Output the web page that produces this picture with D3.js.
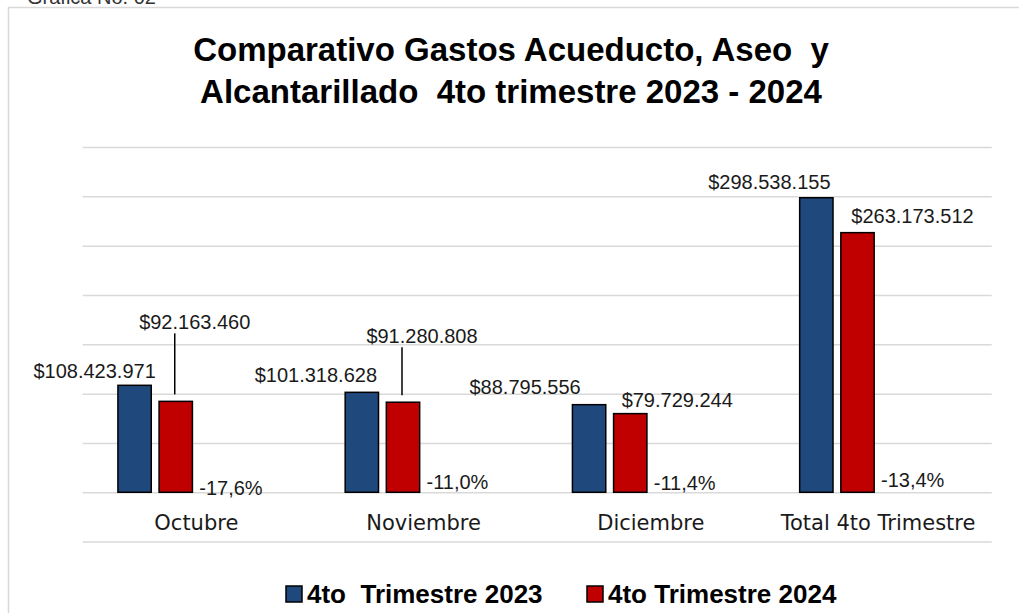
<!DOCTYPE html>
<html>
<head>
<meta charset="utf-8">
<script src="https://cdn.jsdelivr.net/npm/d3@7"></script>
<style>
  body { margin: 0; background: #fff; }
  svg { display: block; }
  text { white-space: pre; }
</style>
</head>
<body>
<div id="chart"></div>
<script>
// Data
const categories = ["Octubre", "Noviembre", "Diciembre", "Total 4to Trimestre"];
const gastos2023 = [108423971, 101318628, 88795556, 298538155];
const gastos2024 = [92163460, 91280808, 79729244, 263173512];
const variacion = ["-17,6%", "-11,0%", "-11,4%", "-13,4%"];
const seriesNames = ["4to  Trimestre 2023", "4to Trimestre 2024"];
const yTicks = [-50e6, 0, 50e6, 100e6, 150e6, 200e6, 250e6, 300e6, 350e6];

// label nudges (the original labels were moved by hand)
const offs2023 = [[-40, -7], [-46, -10], [-64, -11], [-47, -9]];
const offs2024 = [[19, -72], [19, -59], [47, -7], [55, -10]];
const offsPct = [3, -3, -2, -5];
const leaderLines = [true, true, false, false];

const width = 1019, height = 613;
const colors = ["#1f497d", "#c00000"];

const svg = d3.select("#chart").append("svg")
    .attr("width", width)
    .attr("height", height);

svg.append("rect")
    .attr("x", 8.5).attr("y", 7.5)
    .attr("width", width + 20).attr("height", height + 20)
    .attr("fill", "#fff")
    .attr("stroke", "#d9d9d9")
    .attr("stroke-width", 1.5);

// "Grafica No. 02" cut at the top of the picture, as in the original
svg.append("text")
    .attr("x", 27).attr("y", 4)
    .attr("font-family", "Liberation Sans, Arial, sans-serif")
    .attr("font-size", 20)
    .attr("fill", "#333")
    .text("Grafica No. 02");

// Title
const title = svg.append("text")
    .attr("text-anchor", "middle")
    .attr("font-family", "Liberation Sans, Arial, sans-serif")
    .attr("font-weight", "bold")
    .attr("font-size", 33)
    .attr("fill", "#000");
title.append("tspan").attr("x", 511).attr("y", 61).text("Comparativo Gastos Acueducto, Aseo  y");
title.append("tspan").attr("x", 511).attr("y", 103).text("Alcantarillado  4to trimestre 2023 - 2024");

// Scales
const x = d3.scaleBand()
    .domain(categories)
    .range([82.7, 991.7])
    .paddingInner(0.31)
    .paddingOuter(0.155);

// 4 slots per group: 2023, 2024, variation label, empty
const xs = d3.scaleBand()
    .domain([0, 1, 2, 3])
    .range([0, x.bandwidth()])
    .paddingInner(0.19);

const y = d3.scaleLinear()
    .domain([-50e6, 350e6])
    .range([541.6, 147]);

// Gridlines
const grid = svg.append("g")
    .attr("transform", `translate(${82.7},0)`)
    .call(d3.axisLeft(y).tickValues(yTicks).tickSize(-(991.7 - 82.7)).tickFormat(""));
grid.select(".domain").remove();
grid.selectAll(".tick line")
    .attr("stroke", "#d9d9d9")
    .attr("stroke-width", 1.5);

// Category axis
const xAxis = svg.append("g")
    .attr("transform", `translate(0,${y(0)})`)
    .call(d3.axisBottom(x).tickSize(0).tickPadding(23));
xAxis.select(".domain").remove();
xAxis.selectAll("text")
    .attr("font-family", "DejaVu Sans, sans-serif")
    .attr("font-size", 21)
    .attr("fill", "#1a1a1a");

// Bars
const series = [gastos2023, gastos2024];
series.forEach((vals, s) => {
    svg.append("g").selectAll("rect")
        .data(vals)
        .join("rect")
        .attr("x", (d, i) => x(categories[i]) + xs(s))
        .attr("y", d => y(d))
        .attr("width", xs.bandwidth())
        .attr("height", d => y(0) - y(d))
        .attr("fill", colors[s])
        .attr("stroke", "#000")
        .attr("stroke-width", 1.5);
});

const fmt = v => "$" + d3.format(",")(v).replace(/,/g, ".");
const labelFont = "Liberation Sans, Arial, sans-serif";

// Value labels
const offs = [offs2023, offs2024];
series.forEach((vals, s) => {
    svg.append("g").selectAll("text")
        .data(vals)
        .join("text")
        .attr("x", (d, i) => x(categories[i]) + xs(s) + xs.bandwidth() / 2 + offs[s][i][0])
        .attr("y", (d, i) => y(d) + offs[s][i][1])
        .attr("text-anchor", "middle")
        .attr("font-family", labelFont)
        .attr("font-size", 20)
        .attr("fill", "#1a1a1a")
        .text(d => fmt(d));
});

// Leader lines for the moved 2024 labels
svg.append("g").selectAll("line")
    .data(gastos2024.map((v, i) => ({ v, i })).filter(d => leaderLines[d.i]))
    .join("line")
    .attr("x1", d => x(categories[d.i]) + xs(1) + xs.bandwidth() / 2 - 1)
    .attr("x2", d => x(categories[d.i]) + xs(1) + xs.bandwidth() / 2 - 1)
    .attr("y1", d => y(d.v) + offs2024[d.i][1] + 4)
    .attr("y2", d => y(d.v) - 7)
    .attr("stroke", "#000")
    .attr("stroke-width", 1.5);

// Variation labels
svg.append("g").selectAll("text")
    .data(variacion)
    .join("text")
    .attr("x", (d, i) => x(categories[i]) + xs(2) - 1)
    .attr("y", (d, i) => y(0) + offsPct[i])
    .attr("font-family", labelFont)
    .attr("font-size", 20)
    .attr("fill", "#1a1a1a")
    .text(d => d);

// Legend
const legendX = [286, 587];
const legend = svg.append("g");
seriesNames.forEach((name, s) => {
    legend.append("rect")
        .attr("x", legendX[s]).attr("y", 586)
        .attr("width", 16).attr("height", 16)
        .attr("fill", colors[s])
        .attr("stroke", "#000")
        .attr("stroke-width", 1.5);
    legend.append("text")
        .attr("x", legendX[s] + 21).attr("y", 603)
        .attr("font-family", "Liberation Sans, Arial, sans-serif")
        .attr("font-weight", "bold")
        .attr("font-size", 26)
        .attr("fill", "#000")
        .text(name);
});
</script>
</body>
</html>
